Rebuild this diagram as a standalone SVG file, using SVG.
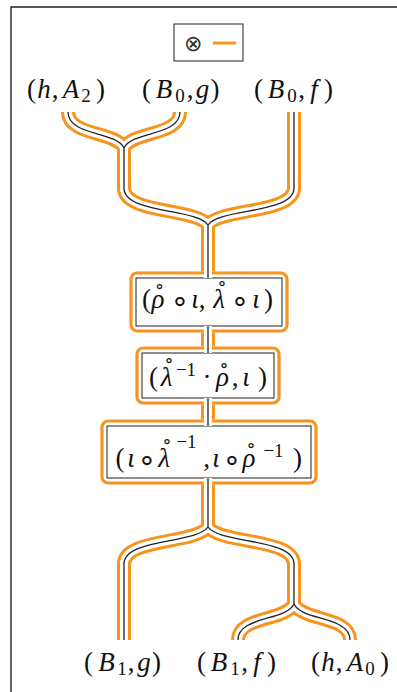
<svg xmlns="http://www.w3.org/2000/svg" width="397" height="692" viewBox="0 0 397 692">
<style>
.t{font-family:"Liberation Serif","DejaVu Serif",serif;font-size:27px;fill:#111;text-anchor:middle}
.i{font-style:italic}
.s{font-size:19px}
.o{font-family:"DejaVu Sans",sans-serif;font-size:30px}
.r{font-family:"DejaVu Sans",sans-serif;font-size:20px}
.wo{fill:none;stroke:#F7941D;stroke-width:14;stroke-linejoin:round}
.ww{fill:none;stroke:#fff;stroke-width:8;stroke-linejoin:round}
.wc{fill:none;stroke:#222;stroke-width:1.3;stroke-linejoin:round}
.halo{fill:#fff;stroke:#F7941D;stroke-width:3.2}
.box{fill:#fff;stroke:#333;stroke-width:1.1}
</style>
<rect width="397" height="692" fill="#fff"/>
<path d="M11,692 V7 H398" fill="none" stroke="#222" stroke-width="1.4"/>
<g id="legend">
<rect x="174" y="24" width="69" height="37" fill="#fff" stroke="#333" stroke-width="1.1"/>
<text x="193" y="51" style="font-family:'DejaVu Sans',sans-serif;font-weight:200;font-size:22px;fill:#333;text-anchor:middle">⊗</text>
<line x1="213" y1="43" x2="236" y2="43" stroke="#F7941D" stroke-width="3"/>
</g>
<g id="labels-top">
<text class="t" y="98"><tspan x="31.5">(</tspan><tspan class="i" x="44">h</tspan><tspan x="55">,</tspan><tspan class="i" x="71">A</tspan><tspan class="s" x="86" y="102">2</tspan><tspan x="100.5" y="98">)</tspan></text>
<text class="t" y="98"><tspan x="146.5">(</tspan><tspan class="i" x="164">B</tspan><tspan class="s" x="180" y="102">0</tspan><tspan x="190" y="98">,</tspan><tspan class="i" x="202.5">g</tspan><tspan x="215">)</tspan></text>
<text class="t" y="98"><tspan x="258.5">(</tspan><tspan class="i" x="276">B</tspan><tspan class="s" x="292" y="102">0</tspan><tspan x="301.5" y="98">,</tspan><tspan class="i" x="314">f</tspan><tspan x="328.5">)</tspan></text>
</g>
<g id="labels-bottom">
<text class="t" y="671"><tspan x="88.5">(</tspan><tspan class="i" x="106.5">B</tspan><tspan class="s" x="122" y="675">1</tspan><tspan x="131" y="671">,</tspan><tspan class="i" x="144">g</tspan><tspan x="156.5">)</tspan></text>
<text class="t" y="671"><tspan x="201.5">(</tspan><tspan class="i" x="219">B</tspan><tspan class="s" x="235" y="675">1</tspan><tspan x="244.5" y="671">,</tspan><tspan class="i" x="257">f</tspan><tspan x="271.5">)</tspan></text>
<text class="t" y="671"><tspan x="315.5">(</tspan><tspan class="i" x="328">h</tspan><tspan x="339">,</tspan><tspan class="i" x="355">A</tspan><tspan class="s" x="370" y="675">0</tspan><tspan x="384.5" y="671">)</tspan></text>
</g>
<g id="node1">
<rect class="halo" x="131" y="273" width="156" height="58" rx="6"/>
<rect class="box" x="136" y="278" width="146" height="48"/>
<text class="t" y="308"><tspan x="146.5">(</tspan><tspan class="i" x="158">ρ</tspan><tspan class="r" x="159.5" y="301">˚</tspan><tspan class="o" x="180" y="311">∘</tspan><tspan class="i" x="195" y="308">ι</tspan><tspan x="202">,</tspan><tspan class="i" x="219">λ</tspan><tspan class="r" x="222" y="298">˚</tspan><tspan class="o" x="240" y="311">∘</tspan><tspan class="i" x="256" y="308">ι</tspan><tspan x="268.5">)</tspan></text>
</g>
<g id="node2">
<rect class="halo" x="137" y="348" width="142" height="55" rx="6"/>
<rect class="box" x="142" y="353" width="132" height="45"/>
<text class="t" y="386"><tspan x="153.5">(</tspan><tspan class="i" x="166.5">λ</tspan><tspan class="r" x="169" y="375">˚</tspan><tspan class="s" x="186" y="376">−1</tspan><tspan x="207" y="386">·</tspan><tspan class="i" x="222.5">ρ</tspan><tspan class="r" x="224" y="380">˚</tspan><tspan x="235" y="386">,</tspan><tspan class="i" x="246">ι</tspan><tspan x="262.5">)</tspan></text>
</g>
<g id="node3">
<rect class="halo" x="102" y="421" width="214" height="62" rx="6"/>
<rect class="box" x="107" y="426" width="204" height="52"/>
<text class="t" y="467"><tspan x="120">(</tspan><tspan class="i" x="131">ι</tspan><tspan class="o" x="147" y="470">∘</tspan><tspan class="i" x="164" y="467">λ</tspan><tspan class="r" x="167" y="456">˚</tspan><tspan class="s" x="186.5" y="448">−1</tspan><tspan x="206.5" y="467">,</tspan><tspan class="i" x="216">ι</tspan><tspan class="o" x="232" y="470">∘</tspan><tspan class="i" x="249" y="467">ρ</tspan><tspan class="r" x="251" y="460">˚</tspan><tspan class="s" x="273.5" y="457">−1</tspan><tspan x="297.5" y="467">)</tspan></text>
</g>
<g id="connectors">
<g class="wo">
<path d="M68,112 C68,136 116,131 124,148 V188 C124,214 196,208 208,225 V271.4"/>
<path d="M180,112 C180,136 132,131 124,148 V160"/>
<path d="M294,112 V188 C294,214 220,208 208,225 V240"/>
<path d="M208,332.6 V346.4"/>
<path d="M208,404.6 V419.4"/>
<path d="M208,484.6 V527 C196,544 124,538 124,564 V640"/>
<path d="M208,527 C220,544 294,538 294,564 V604 C286,621 238,616 238,640"/>
<path d="M294,604 C302,621 350,616 350,640"/>
</g>
<g class="ww">
<path d="M68,112 C68,136 116,131 124,148 V188 C124,214 196,208 208,225 V278"/>
<path d="M180,112 C180,136 132,131 124,148 V160"/>
<path d="M294,112 V188 C294,214 220,208 208,225 V240"/>
<path d="M208,326 V353"/>
<path d="M208,398 V426"/>
<path d="M208,478 V527 C196,544 124,538 124,564 V640"/>
<path d="M208,527 C220,544 294,538 294,564 V604 C286,621 238,616 238,640"/>
<path d="M294,604 C302,621 350,616 350,640"/>
</g>
<g class="wc">
<path d="M68,112 C68,136 116,131 124,148 V188 C124,214 196,208 208,225 V278"/>
<path d="M180,112 C180,136 132,131 124,148"/>
<path d="M294,112 V188 C294,214 220,208 208,225"/>
<path d="M208,326 V353"/>
<path d="M208,398 V426"/>
<path d="M208,478 V527 C196,544 124,538 124,564 V640"/>
<path d="M208,527 C220,544 294,538 294,564 V604 C286,621 238,616 238,640"/>
<path d="M294,604 C302,621 350,616 350,640"/>
</g>
</g>
</svg>
